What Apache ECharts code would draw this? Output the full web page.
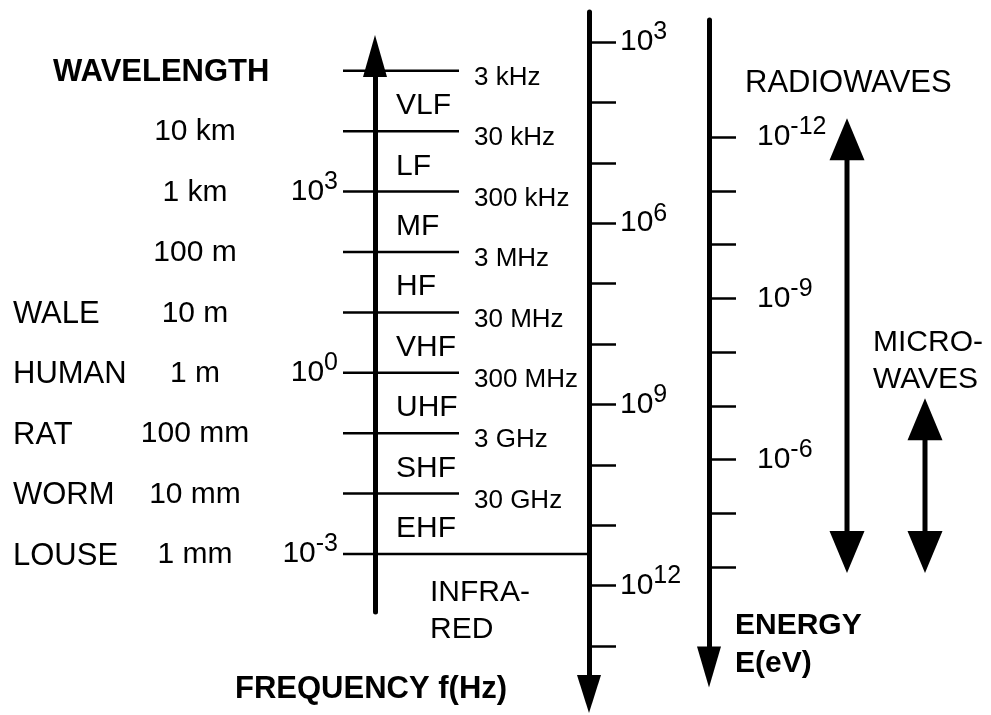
<!DOCTYPE html>
<html>
<head>
<meta charset="utf-8">
<script src="https://cdn.jsdelivr.net/npm/echarts@6/dist/echarts.min.js"></script>
<style>
html, body { margin: 0; padding: 0; background: #fff; }
#main { width: 991px; height: 715px; }
</style>
</head>
<body>
<div id="main"></div>
<script>
// band edges of the radio spectrum (Hz) and the text next to each edge
var edgeFreqs = [3e3, 3e4, 3e5, 3e6, 3e7, 3e8, 3e9, 3e10, 3e11];
var edgeLabels = ['3 kHz', '30 kHz', '300 kHz', '3 MHz', '30 MHz', '300 MHz', '3 GHz', '30 GHz', ''];
var wavelengthLabels = ['', '10 km', '1 km', '100 m', '10 m', '1 m', '100 mm', '10 mm', '1 mm'];
var creatureLabels = ['', '', '', '', 'WALE', 'HUMAN', 'RAT', 'WORM', 'LOUSE'];
var bandNames = ['VLF', 'LF', 'MF', 'HF', 'VHF', 'UHF', 'SHF', 'EHF'];

// tick exponents (log10)
var freqTickExps = [3, 4, 5, 6, 7, 8, 9, 10, 11, 12, 13];
var freqLabelExps = [3, 6, 9, 12];
var wavelengthLabelExps = [3, 0, -3];
var energyTickExps = [-12, -11, -10, -9, -8, -7, -6, -5, -4];
var energyLabelExps = [-12, -9, -6];

// ranges shown as double arrows, log10 of E in eV
var rangeNames = ['RADIOWAVES', 'MICROWAVES'];
var rangeFrom = [-12.35, -7.14];
var rangeTo = [-3.89, -3.89];

var FONT = '"Liberation Sans", Arial, sans-serif';
var LOG_C = Math.log10(3e8);

// pixel layout of the two log scales
function freqAt(y) { return 3 + (y - 42) / 60.4; }
function energyAt(y) { return -12 + (y - 137) / 53.75; }

var powRich = {
	b: { fontSize: 30, fontFamily: FONT, color: '#000', lineHeight: 44 },
	s: { fontSize: 25, fontFamily: FONT, color: '#000', lineHeight: 24, verticalAlign: 'top' }
};
function pow10(e) { return '{b|10}{s|' + e + '}'; }

var axisLine = { color: '#000', width: 5 };

function txt(x, y, text, size, align, bold, lh) {
	return {
		type: 'text', x: x, y: y, silent: true,
		style: {
			text: text, fill: '#000', fontSize: size, fontFamily: FONT,
			fontWeight: bold ? 'bold' : 'normal', lineHeight: lh || size,
			align: align, textAlign: align, verticalAlign: 'middle', textVerticalAlign: 'middle'
		}
	};
}

var myChart = echarts.init(document.getElementById('main'));

var option = {
	animation: false,
	backgroundColor: '#fff',
	grid: [
		{ left: 343, width: 246, top: 12, height: 682, outerBoundsMode: 'none' },
		{ left: 375, width: 1, top: 56, height: 556, outerBoundsMode: 'none' },
		{ left: 709, width: 1, top: 20, height: 647, outerBoundsMode: 'none' },
		{ left: 808, width: 156, top: 20, height: 647, outerBoundsMode: 'none' }
	],
	xAxis: [
		{ gridIndex: 0, type: 'value', min: 0, max: 1, show: false },
		{ gridIndex: 1, type: 'value', min: 0, max: 1, show: false },
		{ gridIndex: 2, type: 'value', min: 0, max: 1, show: false },
		{ gridIndex: 3, type: 'category', data: rangeNames, show: false }
	],
	yAxis: [
		{
			// frequency
			gridIndex: 0, type: 'value', inverse: true, position: 'right',
			min: freqAt(12), max: freqAt(694),
			splitLine: { show: false },
			axisLine: { show: true, onZero: false, symbol: ['triangle', 'none'], symbolSize: [24, 38], lineStyle: axisLine },
			axisTick: { show: true, length: 27, customValues: freqTickExps, lineStyle: { color: '#000', width: 2.5 } },
			axisLabel: { show: true, margin: 31, customValues: freqLabelExps, formatter: pow10, rich: powRich }
		},
		{
			// wavelength
			gridIndex: 1, type: 'value', inverse: true, position: 'left',
			min: freqAt(56), max: freqAt(612),
			splitLine: { show: false },
			axisLine: { show: true, onZero: false, symbol: ['none', 'triangle'], symbolSize: [24, 42], lineStyle: axisLine },
			axisTick: { show: false },
			axisLabel: {
				show: true, margin: 37,
				customValues: wavelengthLabelExps.map(function (e) { return LOG_C - e; }),
				formatter: function (v) { return pow10(Math.round(LOG_C - v)); },
				rich: powRich
			}
		},
		{
			// energy
			gridIndex: 2, type: 'value', inverse: true, position: 'left',
			min: energyAt(20), max: energyAt(667),
			splitLine: { show: false },
			axisLine: { show: true, onZero: false, symbol: ['triangle', 'none'], symbolSize: [24, 41], lineStyle: axisLine },
			axisTick: { show: true, inside: true, length: 27, customValues: energyTickExps, lineStyle: { color: '#000', width: 2.5 } },
			axisLabel: { show: true, inside: true, margin: 48, customValues: energyLabelExps, formatter: pow10, rich: powRich }
		},
		{
			gridIndex: 3, type: 'value', inverse: true, show: false,
			min: energyAt(20), max: energyAt(667)
		}
	],
	series: [
		{
			type: 'custom',
			xAxisIndex: 0, yAxisIndex: 0,
			data: edgeFreqs.map(function (f, i) { return [0, Math.log10(f), i]; }),
			renderItem: function (params, api) {
				var i = api.value(2);
				var cs = params.coordSys;
				var y = api.coord([0, api.value(1)])[1];
				var last = i === edgeFreqs.length - 1;
				var kids = [{
					type: 'line',
					shape: { x1: cs.x, y1: y, x2: last ? cs.x + cs.width : cs.x + 116, y2: y },
					style: { stroke: '#000', lineWidth: 2.5 }
				}];
				if (edgeLabels[i]) kids.push(txt(cs.x + 131, y + 7, edgeLabels[i], 26, 'left'));
				if (wavelengthLabels[i]) kids.push(txt(195, y + 1, wavelengthLabels[i], 30, 'center'));
				if (creatureLabels[i]) kids.push(txt(13, y + 2, creatureLabels[i], 31, 'left'));
				if (i < bandNames.length) {
					var ny = api.coord([0, Math.log10(edgeFreqs[i + 1])])[1];
					kids.push(txt(cs.x + 53, (y + ny) / 2 + 5, bandNames[i], 30, 'left'));
				}
				return { type: 'group', children: kids };
			}
		},
		{
			type: 'custom',
			xAxisIndex: 3, yAxisIndex: 3,
			encode: { x: 0, y: [1, 2] },
			data: rangeNames.map(function (n, i) { return [i, rangeFrom[i], rangeTo[i]]; }),
			renderItem: function (params, api) {
				var p1 = api.coord([api.value(0), api.value(1)]);
				var p2 = api.coord([api.value(0), api.value(2)]);
				var x = p1[0], hw = 17.5, hh = 42;
				return {
					type: 'group',
					children: [
						{ type: 'line', shape: { x1: x, y1: p1[1] + hh - 2, x2: x, y2: p2[1] - hh + 2 }, style: { stroke: '#000', lineWidth: 5 } },
						{ type: 'polygon', shape: { points: [[x, p1[1]], [x - hw, p1[1] + hh], [x + hw, p1[1] + hh]] }, style: { fill: '#000' } },
						{ type: 'polygon', shape: { points: [[x, p2[1]], [x - hw, p2[1] - hh], [x + hw, p2[1] - hh]] }, style: { fill: '#000' } }
					]
				};
			}
		}
	],
	graphic: [
		txt(53, 72, 'WAVELENGTH', 31, 'left', true),
		txt(235, 689, 'FREQUENCY f(Hz)', 31, 'left', true),
		txt(735, 645, 'ENERGY\nE(eV)', 30, 'left', true, 38),
		txt(430, 611, 'INFRA-\nRED', 30, 'left', false, 37),
		txt(745, 83, 'RADIOWAVES', 31, 'left'),
		txt(873, 361, 'MICRO-\nWAVES', 30, 'left', false, 37)
	]
};

myChart.setOption(option);
</script>
</body>
</html>
